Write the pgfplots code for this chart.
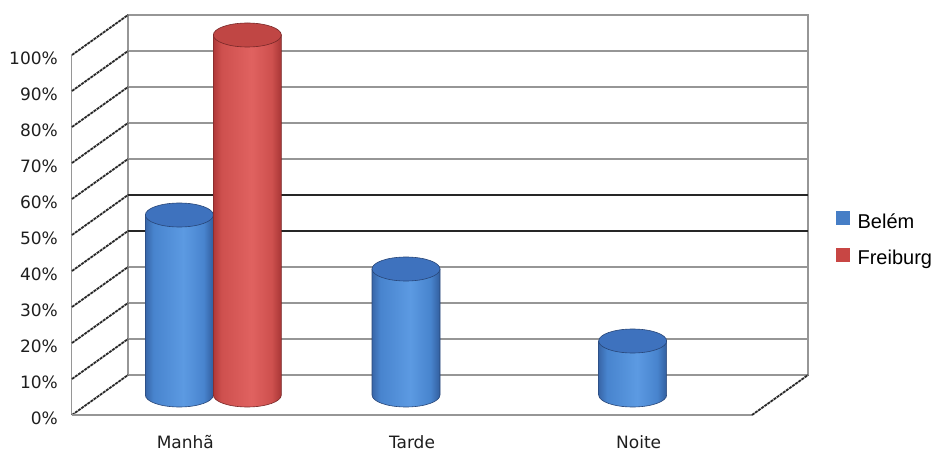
\documentclass[border=0pt]{standalone}
\usepackage{fontspec}
\setmainfont{DejaVu Sans}
\newfontfamily\legendfont{Liberation Sans}
\usepackage{pgfplots}
\usepackage{pgfplotstable}
\pgfplotsset{compat=1.18}

% palette
\definecolor{wallgrid}{RGB}{150,150,150}
\definecolor{sideline}{RGB}{40,40,40}
\definecolor{labeltext}{RGB}{30,30,30}
\definecolor{bA}{RGB}{56,102,168}
\definecolor{bB}{RGB}{72,132,206}
\definecolor{bC}{RGB}{92,154,226}
\definecolor{bD}{RGB}{50,94,158}
\definecolor{bTop}{RGB}{62,114,190}
\definecolor{bEdge}{RGB}{40,70,120}
\definecolor{rA}{RGB}{176,56,56}
\definecolor{rB}{RGB}{206,80,78}
\definecolor{rC}{RGB}{224,98,96}
\definecolor{rD}{RGB}{168,54,54}
\definecolor{rTop}{RGB}{192,70,68}
\definecolor{rEdge}{RGB}{120,40,40}
\definecolor{belemkey}{RGB}{70,126,198}
\definecolor{freiburgkey}{RGB}{200,70,68}

% cylinder side shadings (the path's box maps onto 25bp..75bp)
\pgfdeclarehorizontalshading{cylblue}{100bp}{color(0bp)=(bA); color(25bp)=(bA);
  color(31bp)=(bB); color(53bp)=(bC); color(68bp)=(bB); color(75bp)=(bD); color(100bp)=(bD)}
\pgfdeclarehorizontalshading{cylred}{100bp}{color(0bp)=(rA); color(25bp)=(rA);
  color(31bp)=(rB); color(53bp)=(rC); color(68bp)=(rB); color(75bp)=(rD); color(100bp)=(rD)}

% cylinder radii; heights use 3.6pt per percentage point
\def\cylrx{34}
\def\cylry{12}

% #1 mark name, #2 horizontal offset (pt), #3 side shading, #4 lid colour, #5 outline
% every cylinder stands half a wall depth (20pt down, 28pt left) in front of the back wall
\newcommand\defcylmark[5]{%
  \pgfdeclareplotmark{#1}{%
    \pgfkeys{/pgf/fpu=true,/pgf/fpu/output format=fixed}%
    \pgfmathparse{\cylval*3.6}%
    \global\let\cylh\pgfmathresult
    \pgfkeys{/pgf/fpu=false}%
    \pgfmathsetmacro\cylL{#2-\cylrx}%
    \pgfmathsetmacro\cylR{#2+\cylrx}%
    \pgfmathsetmacro\cylB{-20-\cylh}%
    \ifdim\cylh pt>0pt
      \shadedraw[shading=#3, draw=#5, line width=0.6pt]
        (\cylL pt,-20pt) -- (\cylL pt,\cylB pt)
        arc[start angle=180, end angle=360, x radius=\cylrx pt, y radius=\cylry pt]
        -- (\cylR pt,-20pt) -- cycle;
      \filldraw[fill=#4, draw=#5, line width=0.6pt]
        (#2pt,-20pt) ellipse[x radius=\cylrx pt, y radius=\cylry pt];
    \fi
  }%
}
\defcylmark{cylbelem}{-62}{cylblue}{bTop}{bEdge}
\defcylmark{cylfreiburg}{6}{cylred}{rTop}{rEdge}

\pgfplotstableread{
cat v
0 50
1 35
2 15
}\belemdata
\pgfplotstableread{
cat v
0 100
1 0
2 0
}\freiburgdata

\begin{document}
\begin{tikzpicture}
\path[use as bounding box] (-128pt,-77pt) rectangle (806pt,375pt);
\begin{axis}[
  at={(0pt,0pt)}, anchor=south west,
  scale only axis, width=680pt, height=360pt,
  xmin=-0.5, xmax=2.5, ymin=0, ymax=100,
  clip=false,
  axis line style={wallgrid, line width=1.3pt},
  xtick={0,1,2}, xticklabels={Manhã,Tarde,Noite},
  ytick={0,10,...,100},
  yticklabels={0\%,10\%,20\%,30\%,40\%,50\%,60\%,70\%,80\%,90\%,100\%},
  major tick length=0pt,
  ymajorgrids, grid style={wallgrid, line width=1.3pt},
  tick label style={font=\fontsize{17}{20}\selectfont, text=labeltext},
  yticklabel style={anchor=east, inner sep=0pt, xshift=-70pt, yshift=-43pt},
  xticklabel style={anchor=base, inner sep=0pt, xshift=-56pt, yshift=-73pt},
  legend style={at={(1,0.376)}, anchor=west, xshift=28pt, draw=none, fill=none,
    inner sep=0pt, row sep=16pt,
    font=\legendfont\fontsize{20}{22}\selectfont},
  legend cell align=left,
]
% heavier rules on the back wall
\draw[black!85, line width=2.5pt] (axis cs:-0.5,40) -- (axis cs:2.5,40);
\draw[black!85, line width=2.5pt] (axis cs:-0.5,50) -- (axis cs:2.5,50);

% left side wall: front edge and the receding rules
\draw[wallgrid, line width=1pt] ([shift={(-56pt,-40pt)}]axis cs:-0.5,0) -- ([shift={(-56pt,-40pt)}]axis cs:-0.5,100);
\pgfplotsinvokeforeach{0,10,...,100}{
  \draw[sideline, line width=1.8pt, dash pattern=on 3pt off 0.8pt]
    ([shift={(-56pt,-40pt)}]axis cs:-0.5,#1) -- (axis cs:-0.5,#1);
}
% floor
\draw[wallgrid, line width=1.3pt] ([shift={(-56pt,-40pt)}]axis cs:-0.5,0) -- ([shift={(-56pt,-40pt)}]axis cs:2.5,0);
\draw[sideline, line width=1.8pt, dash pattern=on 3pt off 0.8pt]
  ([shift={(-56pt,-40pt)}]axis cs:2.5,0) -- (axis cs:2.5,0);

\addplot[scatter, only marks, mark=cylbelem,
  visualization depends on={rawy \as \cylval},
  legend image code/.code={\fill[belemkey] (0pt,-3pt) rectangle (13pt,10pt); \path (19pt,0pt);}]
  table[x=cat, y=v] {\belemdata};
\addlegendentry{Belém}
\addplot[scatter, only marks, mark=cylfreiburg,
  visualization depends on={rawy \as \cylval},
  legend image code/.code={\fill[freiburgkey] (0pt,-3pt) rectangle (13pt,10pt); \path (19pt,0pt);}]
  table[x=cat, y=v] {\freiburgdata};
\addlegendentry{Freiburg}
\end{axis}
\end{tikzpicture}
\end{document}
